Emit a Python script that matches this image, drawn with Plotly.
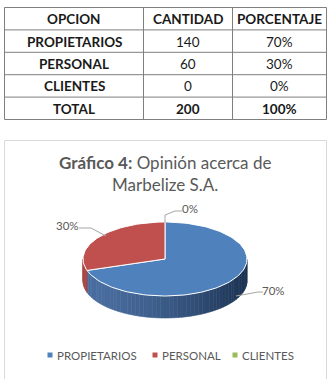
import numpy as np
import plotly.graph_objects as go

# ---------------- data ----------------
opciones = ["PROPIETARIOS", "PERSONAL", "CLIENTES"]
cantidad = [140, 60, 0]
porcentaje = ["70%", "30%", "0%"]
total_label = "TOTAL"
total_cantidad = 200
total_porcentaje = "100%"
headers = ["OPCION", "CANTIDAD", "PORCENTAJE"]
titulo_bold = "Gráfico 4:"
titulo_rest = " Opinión acerca de<br>Marbelize S.A."

# ---------------- styles ----------------
W, H = 329, 379
FONT = "Lato"
TXT = "#1a1a1a"
GRAY = "#595959"
top_colors = ["#4f81bd", "#c0504d", "#9bbb59"]
side_left = [[74, 110, 160], [170, 70, 67], [120, 150, 70]]
side_right = [[28, 50, 82], [110, 40, 38], [80, 100, 45]]

fig = go.Figure()
shapes = []
annotations = []

# ---------------- table ----------------
col_edges = [4.5, 143.5, 232.5, 326.5]
row_edges = np.linspace(7.5, 119.5, 6)
for x in col_edges:
    shapes.append(dict(type="line", x0=x, x1=x, y0=row_edges[0], y1=row_edges[-1],
                       line=dict(color="#7f7f7f", width=1), xref="x", yref="y"))
for y in row_edges:
    shapes.append(dict(type="line", x0=col_edges[0], x1=col_edges[-1], y0=y, y1=y,
                       line=dict(color="#7f7f7f", width=1), xref="x", yref="y"))

table_rows = [[(h, True) for h in headers]]
for o, c, p in zip(opciones, cantidad, porcentaje):
    table_rows.append([(o, True), (str(c), False), (p, False)])
table_rows.append([(total_label, True), (str(total_cantidad), True), (total_porcentaje, True)])

for r, row in enumerate(table_rows):
    yc = (row_edges[r] + row_edges[r + 1]) / 2 + 0.5
    for c, (txt, bold) in enumerate(row):
        xc = (col_edges[c] + col_edges[c + 1]) / 2
        annotations.append(dict(x=xc, y=yc, xref="x", yref="y",
                                text=f"<b>{txt}</b>" if bold else txt,
                                showarrow=False, xanchor="center", yanchor="middle",
                                font=dict(family=FONT, size=13.5, color=TXT)))

# ---------------- chart box ----------------
shapes.append(dict(type="rect", x0=4.5, x1=326.5, y0=140.5, y1=400,
                   line=dict(color="#d9d9d9", width=1), xref="x", yref="y", layer="below"))

annotations.append(dict(x=165, y=173, xref="x", yref="y",
                        text=f"<b>{titulo_bold}</b>{titulo_rest}",
                        showarrow=False, xanchor="center", yanchor="middle",
                        font=dict(family=FONT, size=17, color=GRAY)))

# ---------------- 3D pie ----------------
cx, cy, rx, ry, depth = 165, 259, 82, 37, 22
vals = np.array(cantidad, dtype=float)
cum = np.concatenate([[0.0], np.cumsum(vals / vals.sum())]) * 360.0


def pt(th, dy=0.0):
    t = np.radians(th)
    return cx + rx * np.sin(t), cy - ry * np.cos(t) + dy


# sides (front visible half: 90..270 deg clockwise from top)
for i in range(len(vals)):
    a, b = cum[i], cum[i + 1]
    lo, hi = max(a, 90.0), min(b, 270.0)
    if lo >= hi:
        continue
    steps = list(np.arange(lo, hi, 3.0)) + [hi]
    for s0, s1 in zip(steps[:-1], steps[1:]):
        ths = np.linspace(s0, s1, 4)
        xs_t, ys_t = pt(ths)
        xs_b, ys_b = pt(ths[::-1], depth)
        xs = np.concatenate([xs_t, xs_b, xs_t[:1]])
        ys = np.concatenate([ys_t, ys_b, ys_t[:1]])
        xm = pt((s0 + s1) / 2)[0]
        t = (xm - (cx - rx)) / (2 * rx)
        t = t ** 1.6
        col = [int(round(side_left[i][k] * (1 - t) + side_right[i][k] * t)) for k in range(3)]
        cstr = f"rgb({col[0]},{col[1]},{col[2]})"
        fig.add_trace(go.Scatter(x=xs, y=ys, mode="lines", fill="toself",
                                 fillcolor=cstr, line=dict(color=cstr, width=0.6),
                                 hoverinfo="skip", showlegend=False))

# top slices
for i in range(len(vals)):
    a, b = cum[i], cum[i + 1]
    if b - a <= 0:
        continue
    ths = np.linspace(a, b, max(int((b - a) / 2), 4))
    xs, ys = pt(ths)
    xs = np.concatenate([[cx], xs, [cx]])
    ys = np.concatenate([[cy], ys, [cy]])
    fig.add_trace(go.Scatter(x=xs, y=ys, mode="lines", fill="toself",
                             fillcolor=top_colors[i], line=dict(color="white", width=1),
                             name=opciones[i], hoverinfo="skip", showlegend=False))

# data labels with leader lines (positions are layout)
label_pos = [(273, 290), (67, 225), (190, 208)]
leader_pts = [
    [(236, 296), (258, 292), (263, 292)],
    [(106, 236), (91, 228), (79, 228)],
    [(165, 223), (165, 215), (175, 211), (182, 211)],
]
for i in range(len(vals)):
    lx, ly = zip(*leader_pts[i])
    fig.add_trace(go.Scatter(x=lx, y=ly, mode="lines", line=dict(color="#a6a6a6", width=1),
                             hoverinfo="skip", showlegend=False))
    annotations.append(dict(x=label_pos[i][0], y=label_pos[i][1], xref="x", yref="y",
                            text=porcentaje[i], showarrow=False,
                            xanchor="center", yanchor="middle",
                            font=dict(family=FONT, size=11.5, color=GRAY)))

# ---------------- legend (manual) ----------------
leg_marker_x = [50, 155, 235]
leg_y = 355
for i, name in enumerate(opciones):
    fig.add_trace(go.Scatter(x=[leg_marker_x[i]], y=[leg_y], mode="markers",
                             marker=dict(symbol="square", size=5, color=top_colors[i]),
                             hoverinfo="skip", showlegend=False))
    annotations.append(dict(x=leg_marker_x[i] + 5, y=leg_y, xref="x", yref="y",
                            text=name, showarrow=False, xanchor="left", yanchor="middle",
                            font=dict(family=FONT, size=11.5, color=GRAY)))

fig.update_layout(
    width=W, height=H, margin=dict(l=0, r=0, t=0, b=0),
    paper_bgcolor="white", plot_bgcolor="white",
    xaxis=dict(range=[0, W], visible=False, fixedrange=True),
    yaxis=dict(range=[H, 0], visible=False, fixedrange=True),
    shapes=shapes, annotations=annotations, showlegend=False,
)
fig.write_html("out.html")
